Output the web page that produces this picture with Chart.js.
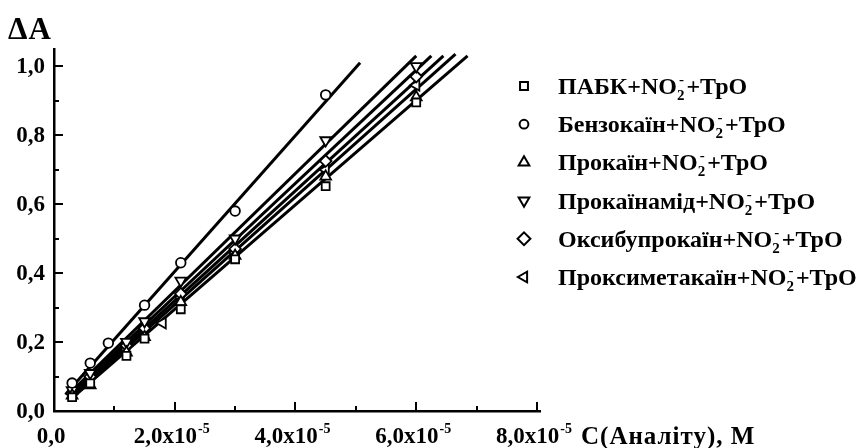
<!DOCTYPE html>
<html>
<head>
<meta charset="utf-8">
<script src="https://cdn.jsdelivr.net/npm/chart.js@4/dist/chart.umd.min.js"></script>
<style>
  html, body { margin: 0; padding: 0; background: #fff; }
  canvas { display: block; }
</style>
</head>
<body>
<canvas id="chart" width="865" height="448"></canvas>
<script>
// Concentrations are given in units of 1e-5 M
const UNIT = 1e-5;

const seriesNames = ['ПАБК', 'Бензокаїн', 'Прокаїн', 'Прокаїнамід', 'Оксибупрокаїн', 'Проксиметакаїн'];
const seriesStyles = ['rect', 'circle', 'triangle', 'triangle', 'rectRot', 'triangle'];
const seriesRotation = [0, 0, 0, 180, 0, -90];

// Measured points
const xPabk = [0.3, 0.6, 1.2, 1.5, 2.1, 3.0, 4.5, 6.0];
const yPabk = [0.040, 0.080, 0.160, 0.210, 0.295, 0.440, 0.652, 0.895];

const xBenzo = [0.3, 0.6, 0.9, 1.5, 2.1, 3.0, 4.5];
const yBenzo = [0.081, 0.139, 0.197, 0.307, 0.430, 0.580, 0.917];

const xProkain = [0.3, 0.6, 1.2, 1.5, 2.1, 3.0, 4.5, 6.0];
const yProkain = [0.045, 0.075, 0.170, 0.215, 0.316, 0.450, 0.680, 0.910];

const xProkainamid = [0.3, 0.6, 1.2, 1.5, 2.1, 3.0, 4.5, 6.0];
const yProkainamid = [0.060, 0.110, 0.200, 0.260, 0.378, 0.500, 0.785, 1.000];

const xOxy = [0.3, 0.6, 1.2, 1.5, 2.1, 3.0, 4.5, 6.0];
const yOxy = [0.050, 0.100, 0.190, 0.240, 0.340, 0.470, 0.725, 0.970];

const xProxy = [0.3, 0.6, 1.2, 1.8, 2.1, 3.0, 4.5, 6.0];
const yProxy = [0.050, 0.090, 0.180, 0.255, 0.330, 0.460, 0.700, 0.945];

// Calibration lines: [x start, y start, x end, y end]
const fitPabk = [0.25, 0.030, 6.85, 1.030];
const fitBenzo = [0.20, 0.050, 5.07, 1.010];
const fitProkain = [0.25, 0.035, 6.65, 1.035];
const fitProkainamid = [0.25, 0.050, 6.00, 1.030];
const fitOxy = [0.25, 0.045, 6.25, 1.030];
const fitProxy = [0.25, 0.040, 6.45, 1.030];

// Axis ticks
const yTickValues = [0, 0.2, 0.4, 0.6, 0.8, 1.0];
const yTickLabels = ['0,0', '0,2', '0,4', '0,6', '0,8', '1,0'];
const xTickValues = [0, 2, 4, 6, 8];
const xTickLabels = ['0,0', '2,0x10', '4,0x10', '6,0x10', '8,0x10'];
const xTickExp = ['', '-5', '-5', '-5', '-5'];

const yTitle = 'ΔA';
const xTitle = 'С(Аналіту), М';

const allX = [xPabk, xBenzo, xProkain, xProkainamid, xOxy, xProxy];
const allY = [yPabk, yBenzo, yProkain, yProkainamid, yOxy, yProxy];
const allFits = [fitPabk, fitBenzo, fitProkain, fitProkainamid, fitOxy, fitProxy];
const pointRadii = [5.6, 4.8, 6.2, 6.2, 5.8, 6.2];

const SERIF = '"Liberation Serif", "DejaVu Serif", serif';
const TICK_SIZE = 23;
const EXP_SIZE = 14;

const datasets = [];
allFits.forEach((f, i) => {
  datasets.push({
    label: seriesNames[i] + ' fit',
    data: [{ x: f[0] * UNIT, y: f[1] }, { x: f[2] * UNIT, y: f[3] }],
    showLine: true,
    borderColor: '#000',
    borderWidth: 3,
    pointRadius: 0,
    fill: false,
    order: 2
  });
});
allX.forEach((xs, i) => {
  datasets.push({
    label: seriesNames[i],
    data: xs.map((v, k) => ({ x: v * UNIT, y: allY[i][k] })),
    showLine: false,
    pointStyle: seriesStyles[i],
    rotation: seriesRotation[i],
    pointRadius: pointRadii[i],
    borderColor: '#000',
    backgroundColor: '#fff',
    borderWidth: 1.8,
    order: 1
  });
});

function measureSup(ctx, main, sup, size, supSize) {
  ctx.font = `bold ${size}px ${SERIF}`;
  const w1 = ctx.measureText(main).width;
  ctx.font = `bold ${supSize}px ${SERIF}`;
  const w2 = sup ? ctx.measureText(sup).width + 1 : 0;
  return w1 + w2;
}

// Draws a string followed by a raised exponent
function drawSup(ctx, x, y, main, sup, size, supSize) {
  ctx.textAlign = 'left';
  ctx.textBaseline = 'alphabetic';
  ctx.font = `bold ${size}px ${SERIF}`;
  ctx.fillText(main, x, y);
  const w1 = ctx.measureText(main).width;
  if (sup) {
    ctx.font = `bold ${supSize}px ${SERIF}`;
    ctx.fillText(sup, x + w1 + 1, y - size * 0.45);
  }
}

// Legend label: name + NO2(-) + ТрО
function drawLegendLabel(ctx, x, y, name) {
  const size = 24, small = 15;
  ctx.textAlign = 'left';
  ctx.textBaseline = 'alphabetic';
  ctx.font = `bold ${size}px ${SERIF}`;
  const head = name + '+NO';
  ctx.fillText(head, x, y);
  let cx = x + ctx.measureText(head).width;
  ctx.font = `bold ${small}px ${SERIF}`;
  ctx.fillText('2', cx, y + 6);
  const w2 = ctx.measureText('2').width;
  ctx.fillText('-', cx + 2, y - 10);
  cx += w2 + 2;
  ctx.font = `bold ${size}px ${SERIF}`;
  ctx.fillText('+ТрО', cx, y);
}

const decor = {
  id: 'decor',
  afterDraw(chart) {
    const { ctx, chartArea, scales } = chart;
    const xs = scales.x, ys = scales.y;
    const left = chartArea.left, bottom = chartArea.bottom;
    ctx.save();
    ctx.strokeStyle = '#000';
    ctx.fillStyle = '#000';
    ctx.lineWidth = 2;
    ctx.lineCap = 'butt';

    // inward ticks on the value axis (major every 0.2, minor every 0.1)
    for (let k = 0; k <= 10; k++) {
      const py = Math.round(ys.getPixelForValue(k / 10));
      const len = k % 2 === 0 ? 9 : 5;
      ctx.beginPath();
      ctx.moveTo(left, py);
      ctx.lineTo(left + len, py);
      ctx.stroke();
    }
    // inward ticks on the concentration axis (major every 2e-5, minor every 1e-5)
    for (let k = 0; k <= 8; k++) {
      const px = Math.round(xs.getPixelForValue(k * UNIT));
      const len = k % 2 === 0 ? 9 : 5;
      ctx.beginPath();
      ctx.moveTo(px, bottom);
      ctx.lineTo(px, bottom - len);
      ctx.stroke();
    }

    // value axis labels
    ctx.font = `bold ${TICK_SIZE}px ${SERIF}`;
    ctx.textAlign = 'right';
    ctx.textBaseline = 'middle';
    yTickValues.forEach((v, i) => {
      ctx.fillText(yTickLabels[i], left - 9, ys.getPixelForValue(v) + 1);
    });

    // concentration axis labels with exponent
    xTickValues.forEach((v, i) => {
      const px = xs.getPixelForValue(v * UNIT);
      const w = measureSup(ctx, xTickLabels[i], xTickExp[i], TICK_SIZE, EXP_SIZE);
      drawSup(ctx, px - w / 2 - 3, 443, xTickLabels[i], xTickExp[i], TICK_SIZE, EXP_SIZE);
    });

    // axis titles
    ctx.textAlign = 'left';
    ctx.textBaseline = 'alphabetic';
    ctx.font = `bold 31px ${SERIF}`;
    ctx.letterSpacing = '1px';
    ctx.fillText(yTitle, 8, 39);
    ctx.font = `bold 25px ${SERIF}`;
    ctx.letterSpacing = '1px';
    ctx.fillText(xTitle, 581, 444);
    ctx.letterSpacing = '0px';

    // legend
    const lx = 524, ly0 = 86, step = 38.2;
    seriesNames.forEach((name, i) => {
      const cy = ly0 + i * step;
      ctx.lineWidth = 2;
      ctx.strokeStyle = '#000';
      ctx.fillStyle = '#fff';
      Chart.helpers.drawPoint(ctx, {
        pointStyle: seriesStyles[i],
        rotation: seriesRotation[i],
        radius: [5.6, 4.4, 6.2, 6.2, 6.4, 6.2][i],
        borderWidth: 2
      }, lx, cy);
      ctx.fillStyle = '#000';
      drawLegendLabel(ctx, 558, cy + 8, name);
    });
    ctx.restore();
  }
};

new Chart(document.getElementById('chart'), {
  type: 'scatter',
  data: { datasets },
  options: {
    responsive: false,
    animation: false,
    devicePixelRatio: 1,
    layout: { padding: { left: 54, top: 49, right: 325, bottom: 37 } },
    plugins: { legend: { display: false }, tooltip: { enabled: false } },
    scales: {
      x: {
        type: 'linear',
        min: 0,
        max: 8.05 * UNIT,
        ticks: { display: false },
        grid: { display: false, drawTicks: false },
        border: { display: true, color: '#000', width: 2.5 },
        afterFit(s) { s.height = 0; }
      },
      y: {
        type: 'linear',
        min: 0,
        max: 1.05,
        ticks: { display: false },
        grid: { display: false, drawTicks: false },
        border: { display: true, color: '#000', width: 2.5 },
        afterFit(s) { s.width = 0; }
      }
    }
  },
  plugins: [decor]
});
</script>
</body>
</html>
